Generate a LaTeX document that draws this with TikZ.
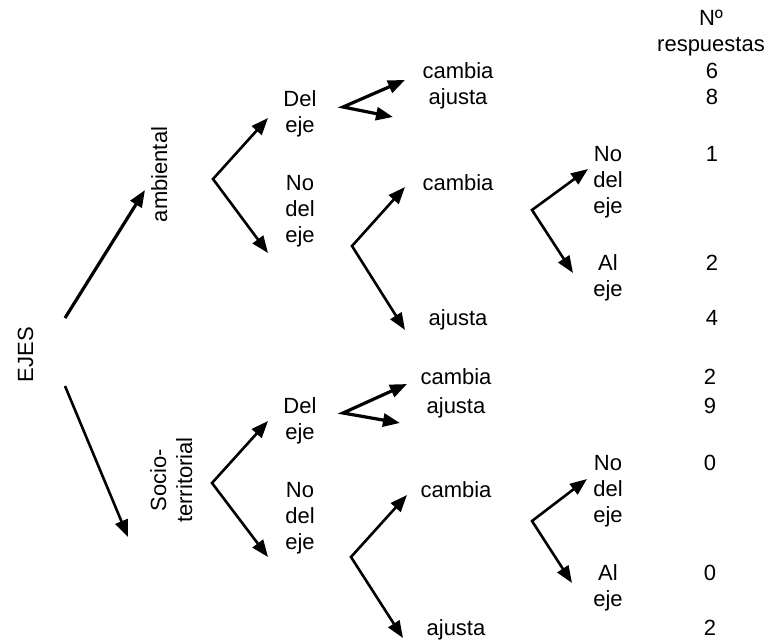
\documentclass[tikz,border=0pt]{standalone}
\usepackage{fontspec}
\setmainfont{Liberation Sans}
\usetikzlibrary{arrows.meta}
\begin{document}
\begin{tikzpicture}[x=1pt,y=-1pt,
  Tri/.tip={Triangle[length=17pt,width=13pt]},
  lbl/.style={inner sep=0pt, font=\fontsize{22}{26}\selectfont},
  lbase/.style={lbl, anchor=base},
  lmulti/.style={lbl, anchor=north, align=center},
  arr/.style={-Tri, line width=2.6pt},
  fork/.style={Tri-Tri, line width=2.6pt},
  thick fork/.style={Tri-Tri, line width=3.2pt},
]
\useasboundingbox (0,0) rectangle (771,641);

% ---- labels, left part
\node[lbase, rotate=90] (ejes) at (33,354.5) {EJES};
\node[lbase, rotate=90] (amb) at (167,174.5) {ambiental};
\node[lmulti, rotate=90] (soc) at (150,480) {\rule{0pt}{16pt}Socio-\\territorial};

% ---- header
\node[lmulti] (head) at (711,9) {\rule{0pt}{16pt}Nº\\respuestas};

% ---- upper block
\node[lmulti] (de1) at (300,90) {\rule{0pt}{16pt}Del\\eje};
\node[lmulti] (nde1) at (300,174) {\rule{0pt}{16pt}No\\del\\eje};
\node[lbase] (c1) at (458,78) {cambia};
\node[lbase] (a1) at (458,104) {ajusta};
\node[lbase] (c2) at (458,190) {cambia};
\node[lbase] (a2) at (458,325) {ajusta};
\node[lmulti] (nde2) at (608,145) {\rule{0pt}{16pt}No\\del\\eje};
\node[lmulti] (ae1) at (608,254) {\rule{0pt}{16pt}Al\\eje};
\node[lbase] (n1) at (712,78) {6};
\node[lbase] (n2) at (712,104) {8};
\node[lbase] (n3) at (712,161) {1};
\node[lbase] (n4) at (712,270) {2};
\node[lbase] (n5) at (712,325) {4};

% ---- lower block
\node[lmulti] (de2) at (300,397) {\rule{0pt}{16pt}Del\\eje};
\node[lmulti] (nde3) at (300,481) {\rule{0pt}{16pt}No\\del\\eje};
\node[lbase] (c3) at (456,384) {cambia};
\node[lbase] (a3) at (456,413) {ajusta};
\node[lbase] (c4) at (456,497) {cambia};
\node[lbase] (a4) at (456,635) {ajusta};
\node[lmulti] (nde4) at (608,454) {\rule{0pt}{16pt}No\\del\\eje};
\node[lmulti] (ae2) at (608,564) {\rule{0pt}{16pt}Al\\eje};
\node[lbase] (n6) at (710,384) {2};
\node[lbase] (n7) at (710,413) {9};
\node[lbase] (n8) at (710,470) {0};
\node[lbase] (n9) at (710,580) {0};
\node[lbase] (n10) at (710,635) {2};

% ---- connector points
\coordinate (e0a) at (65,318);  \coordinate (e1) at (145,190);
\coordinate (e0b) at (65,386);  \coordinate (e2) at (128,537);
\coordinate (v1) at (213,179);  \coordinate (v1u) at (268,118); \coordinate (v1d) at (268,253);
\coordinate (v2) at (343,107);  \coordinate (v2u) at (405,80);  \coordinate (v2d) at (393,117);
\coordinate (v3) at (352,246);  \coordinate (v3u) at (405,187); \coordinate (v3d) at (405,330);
\coordinate (v4) at (532,210);  \coordinate (v4u) at (588,169); \coordinate (v4d) at (573,273);
\coordinate (v5) at (212,483);  \coordinate (v5u) at (268,421); \coordinate (v5d) at (268,557);
\coordinate (v6) at (343,413);  \coordinate (v6u) at (407,384); \coordinate (v6d) at (400,423);
\coordinate (v7) at (351,557);  \coordinate (v7u) at (407,495); \coordinate (v7d) at (403,638);
\coordinate (v8) at (532,521);  \coordinate (v8u) at (587,479); \coordinate (v8d) at (572,583);

% ---- connectors
\draw[arr, line width=3.2pt] (e0a) -- (e1);
\draw[arr] (e0b) -- (e2);
\draw[fork] (v1u) -- (v1) -- (v1d);
\draw[thick fork] (v2u) -- (v2) -- (v2d);
\draw[fork] (v3u) -- (v3) -- (v3d);
\draw[fork] (v4u) -- (v4) -- (v4d);
\draw[fork] (v5u) -- (v5) -- (v5d);
\draw[thick fork] (v6u) -- (v6) -- (v6d);
\draw[fork] (v7u) -- (v7) -- (v7d);
\draw[fork] (v8u) -- (v8) -- (v8d);
\end{tikzpicture}
\end{document}
